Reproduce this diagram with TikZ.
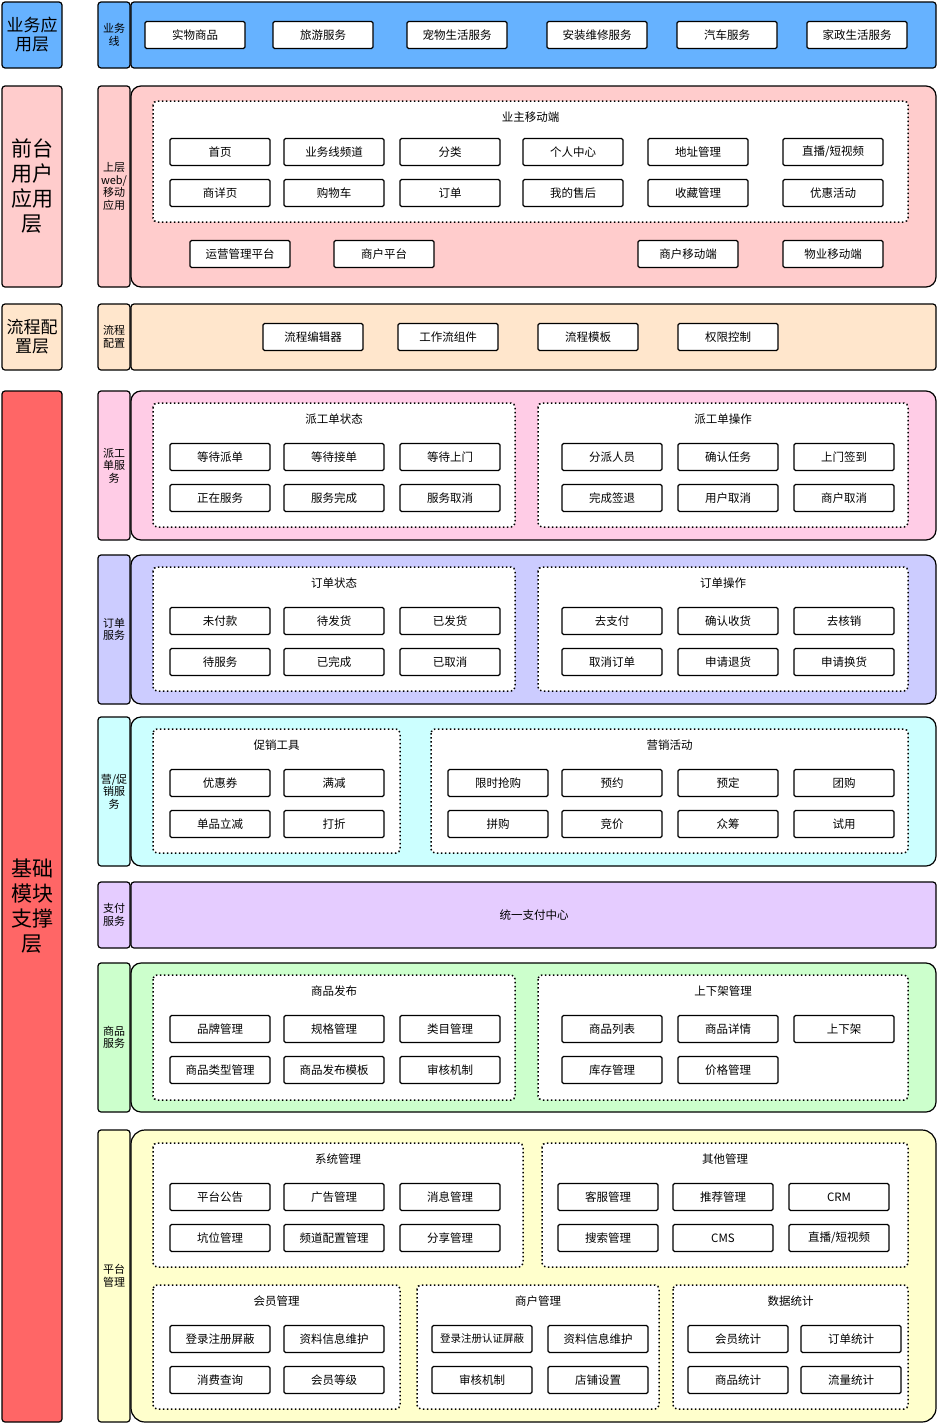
\documentclass[tikz,border=0pt]{standalone}
\usepackage{fontspec}
\setmainfont{Noto Sans CJK SC}
\usetikzlibrary{positioning}
\definecolor{cblue}{HTML}{66B2FF}
\definecolor{cpink}{HTML}{FFCCCC}
\definecolor{cpeach}{HTML}{FFE6CC}
\definecolor{cred}{HTML}{FF6666}
\definecolor{crose}{HTML}{FFCCE6}
\definecolor{clav}{HTML}{CCCCFF}
\definecolor{ccyan}{HTML}{CCFFFF}
\definecolor{cpurp}{HTML}{E5CCFF}
\definecolor{cgreen}{HTML}{CCFFCC}
\definecolor{cyell}{HTML}{FFFFCC}
\tikzset{
  item/.style={draw, line width=1.2pt, fill=white, rounded corners=1.5pt, minimum width=100pt, minimum height=27pt,
    inner sep=0pt, font=\fontsize{11.5}{13}\selectfont},
  layer/.style={draw, line width=1.2pt, rounded corners=3pt, align=center, inner sep=0pt},
  tag/.style={layer, font=\fontsize{11}{12.5}\selectfont, text width=32pt},
  panel/.style={draw, line width=1.2pt, rounded corners=#1},
  panel/.default=10pt,
  group/.style={draw, line width=1.5pt, dash pattern=on 1.5pt off 2.5pt, fill=white, rounded corners=4pt},
  gtitle/.style={font=\fontsize{11.5}{13}\selectfont, inner sep=0pt},
  big/.style={layer, font=\fontsize{17}{19}\selectfont, text width=60pt},
  huge/.style={layer, font=\fontsize{21}{25}\selectfont, text width=56pt}
}
\newcommand\boxrow[2]{\foreach \nm/\cx/\tx in {#2} {\node[item] (\nm) at (\cx,#1) {\tx};}}
\newcommand\grp[5]{\draw[group] (#1,#2) rectangle (#3,#4);
  \node[gtitle] (t#5) at ({(#1+#3)/2},#2+16) {#5};}
\begin{document}
\begin{tikzpicture}[x=1pt, y=-1pt]
\useasboundingbox (0,0) rectangle (938,1424);

% left layers
\node[big, fill=cblue, minimum width=60pt, minimum height=66pt] (lBiz) at (32,35) {业务应\\用层};
\node[huge, fill=cpink, minimum width=60pt, minimum height=201pt] (lFront) at (32,186.5) {前台\\用户\\应用\\层};
\node[big, fill=cpeach, minimum width=60pt, minimum height=66pt] (lFlow) at (32,337) {流程配\\置层};
\node[huge, fill=cred, minimum width=60pt, minimum height=1031pt] (lBase) at (32,906.5) {基础\\模块\\支撑\\层};

% tags
\foreach \nm/\ya/\yb/\col/\tx in {
  gBiz/2/68/cblue/{业务\\线}, gFront/86/287/cpink/{上层\\web/\\移动\\应用}, gFlow/304/370/cpeach/{流程\\配置},
  gDisp/391/540/crose/{派工\\单服\\务}, gOrder/555/704/clav/{订单\\服务}, gProm/717/866/ccyan/{营/促\\销服\\务},
  gPay/882/948/cpurp/{支付\\服务}, gGoods/963/1112/cgreen/{商品\\服务}, gPlat/1130/1422/cyell/{平台\\管理}}
  \node[tag, fill=\col, minimum width=32pt, minimum height={\yb-\ya}] (\nm) at (114,{(\ya+\yb)/2}) {\tx};

% panels
\draw[panel=3pt, fill=cblue] (131,2) rectangle (936,68);
\draw[panel, fill=cpink] (131,86) rectangle (936,287);
\draw[panel=3pt, fill=cpeach] (131,304) rectangle (936,370);
\draw[panel, fill=crose] (131,391) rectangle (936,540);
\draw[panel, fill=clav] (131,555) rectangle (936,704);
\draw[panel, fill=ccyan] (131,717) rectangle (936,866);
\draw[panel=3pt, fill=cpurp] (131,882) rectangle (936,948);
\draw[panel, fill=cgreen] (131,963) rectangle (936,1112);
\draw[panel=14pt, fill=cyell] (131,1130) rectangle (936,1422);

% business lines
\boxrow{35}{b1/195/实物商品, b2/323/旅游服务, b3/457/宠物生活服务, b4/597/安装维修服务, b5/727/汽车服务, b6/857/家政生活服务}

% front
\grp{153}{101}{908}{222}{业主移动端}
\boxrow{152}{f1/220/首页, f2/334/业务线频道, f3/450/分类, f4/573/个人中心, f5/698/地址管理, f6/833/{直播/短视频}}
\boxrow{193}{f7/220/商详页, f8/334/购物车, f9/450/订单, f10/573/我的售后, f11/698/收藏管理, f12/833/优惠活动}
\boxrow{254}{f13/240/运营管理平台, f14/384/商户平台, f15/688/商户移动端, f16/833/物业移动端}

% flow
\boxrow{337}{p1/313/流程编辑器, p2/448/工作流组件, p3/588/流程模板, p4/728/权限控制}

% dispatch
\grp{153}{403}{515}{527}{派工单状态}
\grp{538}{403}{908}{527}{派工单操作}
\boxrow{457}{d1/220/等待派单, d2/334/等待接单, d3/450/等待上门, d4/612/分派人员, d5/728/确认任务, d6/844/上门签到}
\boxrow{498}{d7/220/正在服务, d8/334/服务完成, d9/450/服务取消, d10/612/完成签退, d11/728/用户取消, d12/844/商户取消}

% order
\grp{153}{567}{515}{691}{订单状态}
\grp{538}{567}{908}{691}{订单操作}
\boxrow{621}{o1/220/未付款, o2/334/待发货, o3/450/已发货, o4/612/去支付, o5/728/确认收货, o6/844/去核销}
\boxrow{662}{o7/220/待服务, o8/334/已完成, o9/450/已取消, o10/612/取消订单, o11/728/申请退货, o12/844/申请换货}

% promotion
\grp{153}{729}{400}{853}{促销工具}
\grp{431}{729}{908}{853}{营销活动}
\boxrow{783}{m1/220/优惠券, m2/334/满减, m3/498/限时抢购, m4/612/预约, m5/728/预定, m6/844/团购}
\boxrow{824}{m7/220/单品立减, m8/334/打折, m9/498/拼购, m10/612/竞价, m11/728/众筹, m12/844/试用}

% pay
\node[gtitle] (pay) at (534,915) {统一支付中心};

% goods
\grp{153}{975}{515}{1100}{商品发布}
\grp{538}{975}{908}{1100}{上下架管理}
\boxrow{1029}{s1/220/品牌管理, s2/334/规格管理, s3/450/类目管理, s4/612/商品列表, s5/728/商品详情, s6/844/上下架}
\boxrow{1070}{s7/220/商品类型管理, s8/334/商品发布模板, s9/450/审核机制, s10/612/库存管理, s11/728/价格管理}

% platform
\grp{153}{1143}{523}{1267}{系统管理}
\grp{542}{1143}{908}{1267}{其他管理}
\boxrow{1197}{a1/220/平台公告, a2/334/广告管理, a3/450/消息管理, a4/608/客服管理, a5/723/推荐管理, a6/839/CRM}
\boxrow{1238}{a7/220/坑位管理, a8/334/频道配置管理, a9/450/分享管理, a10/608/搜索管理, a11/723/CMS, a12/839/{直播/短视频}}
\grp{153}{1285}{400}{1409}{会员管理}
\grp{417}{1285}{659}{1409}{商户管理}
\grp{673}{1285}{908}{1409}{数据统计}
\boxrow{1339}{c1/220/登录注册屏蔽, c2/334/资料信息维护, c3/482/{\fontsize{10.5}{12}\selectfont 登录注册认证屏蔽}, c4/598/资料信息维护, c5/738/会员统计, c6/851/订单统计}
\boxrow{1380}{c7/220/消费查询, c8/334/会员等级, c9/482/审核机制, c10/598/店铺设置, c11/738/商品统计, c12/851/流量统计}
\end{tikzpicture}
\end{document}
